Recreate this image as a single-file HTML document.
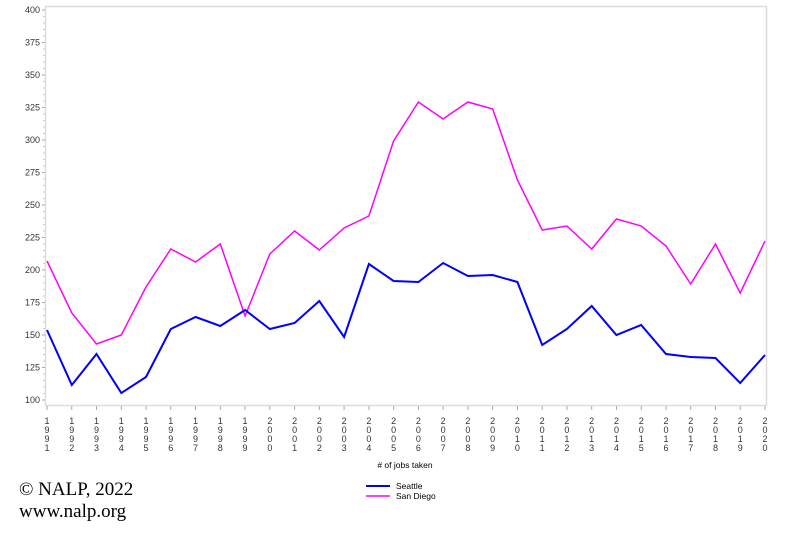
<!DOCTYPE html>
<html><head><style>body{margin:0;background:#fff}</style></head><body>
<svg width="800" height="533" xmlns="http://www.w3.org/2000/svg" font-family="Liberation Sans, sans-serif">
<rect x="45.5" y="6.5" width="721" height="399" fill="none" stroke="#ddd" stroke-width="1.5"/>
<g id="g"></g>
<text x="405" y="468" font-size="8.5" text-anchor="middle" fill="#000"># of jobs taken</text>
<line x1="366" y1="486" x2="390" y2="486" stroke="#0000ff" stroke-width="2"/>
<text x="396" y="489" font-size="8.5">Seattle</text>
<line x1="366" y1="496" x2="390" y2="496" stroke="#ff00ff" stroke-width="1.5"/>
<text x="396" y="499" font-size="8.5">San Diego</text>
<text x="19" y="495" font-family="Liberation Serif, serif" font-size="19">© NALP, 2022</text>
<text x="19" y="517" font-family="Liberation Serif, serif" font-size="19">www.nalp.org</text>
</svg>
<script>
var g=document.getElementById('g'),s='';
for(var v=100;v<=400;v+=25){var y=400-(v-100)*1.3;s+='<text x="40" y="'+(y+3)+'" font-size="9" text-anchor="end" fill="#333">'+v+'</text><line x1="42" y1="'+y+'" x2="45" y2="'+y+'" stroke="#aaa"/>';}
for(var v=105;v<400;v+=5){if(v%25){var y=400-(v-100)*1.3;s+='<line x1="43" y1="'+y+'" x2="45" y2="'+y+'" stroke="#ccc"/>';}}
for(var i=0;i<30;i++){var x=47+i*718/29,yr=String(1991+i);s+='<line x1="'+x+'" y1="406" x2="'+x+'" y2="410" stroke="#aaa"/>';for(var k=0;k<4;k++)s+='<text x="'+x+'" y="'+(424+k*9)+'" font-size="9" text-anchor="middle" fill="#333">'+yr[k]+'</text>';}
var sea=[330,385,354,393,377,329,317,326,310,329,323,301,337,264,281,282,263,276,275,282,345,329,306,335,325,354,357,358,383,355];
var sd=[261,313,344,335,287,249,262,244,316,254,231,250,228,216,141,102,119,102,109,180,230,226,249,219,226,246,284,244,293,241];
function pts(a){return a.map(function(y,i){return (47+i*718/29).toFixed(1)+','+y}).join(' ')}
s+='<polyline points="'+pts(sd)+'" fill="none" stroke="#ff00ff" stroke-width="1.5"/>';
s+='<polyline points="'+pts(sea)+'" fill="none" stroke="#0000ff" stroke-width="2"/>';
g.innerHTML=s;
</script>
</body></html>
